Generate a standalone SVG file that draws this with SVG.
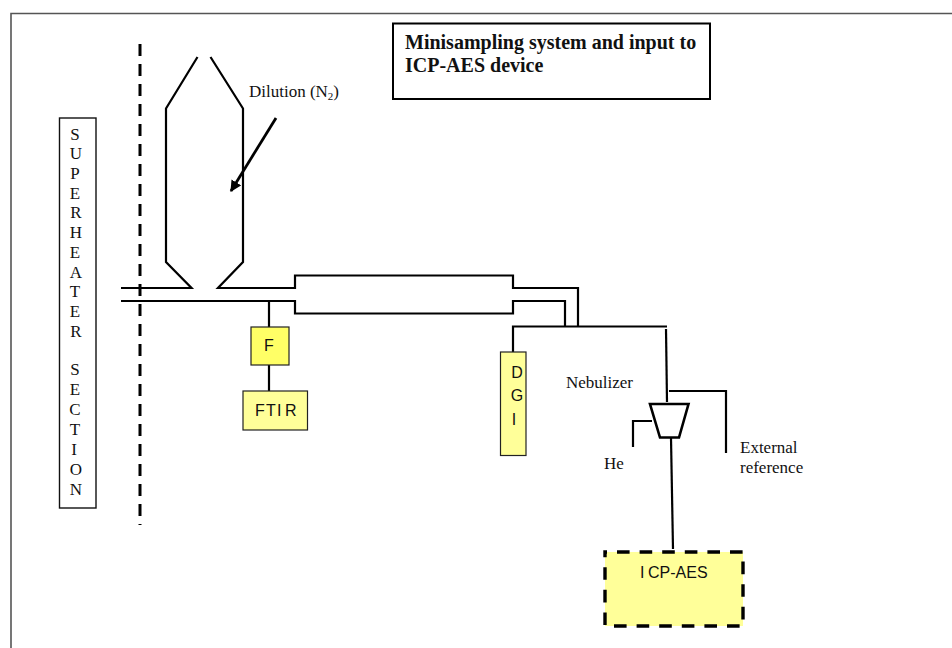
<svg xmlns="http://www.w3.org/2000/svg" width="952" height="648" viewBox="0 0 952 648">
<style>
.pipe{fill:none;stroke:#000;stroke-width:2.2}
.thick{fill:none;stroke:#000;stroke-width:2.6}
.box{stroke:#222;stroke-width:1.2}
.serif{font-family:"Liberation Serif","Times New Roman",serif;font-size:17px;fill:#111}
.sans{font-family:"Liberation Sans",Arial,sans-serif;font-size:16px;fill:#111}
.mid{text-anchor:middle}
.head{font-family:"Liberation Serif","Times New Roman",serif;font-size:20px;font-weight:bold;fill:#111}
</style>
<defs>
<marker id="head" viewBox="0 0 10 10" refX="9" refY="5" markerWidth="4" markerHeight="4" orient="auto"><path d="M0 0L10 5L0 10Z" fill="#000"/></marker>
</defs>
<rect width="952" height="648" fill="#fff"/>
<path id="frame" d="M11 648V13.500H952" fill="none" stroke="#555" stroke-width="1.6"/>
<g id="title">
<rect x="393" y="23.500" width="317" height="75.500" fill="#fff" stroke="#000" stroke-width="2"/>
<text class="head" x="405" y="49">Minisampling system and input to</text>
<text class="head" x="405" y="72">ICP-AES device</text>
</g>
<g id="superheater">
<rect x="59.500" y="118" width="36.500" height="390" fill="#fff" stroke="#111" stroke-width="1.4"/>
<g class="serif mid">
<text x="75" y="140">S</text><text x="76" y="159">U</text><text x="75" y="179">P</text><text x="75" y="199">E</text><text x="76" y="218">R</text><text x="76" y="238">H</text><text x="75" y="258">E</text><text x="76" y="278">A</text><text x="75" y="297">T</text><text x="75" y="317">E</text><text x="76" y="337">R</text><text x="75" y="375">S</text><text x="75" y="395">E</text><text x="75" y="415">C</text><text x="75" y="435">T</text><text x="74" y="455">I</text><text x="76" y="475">O</text><text x="76" y="495">N</text>
</g>
</g>
<g id="connectors">
<path d="M140 44V525" fill="none" stroke="#000" stroke-width="3" stroke-dasharray="12 8"/>
<path class="pipe" d="M197.500 57L166 108.500V262L191.500 288H121"/>
<path class="pipe" d="M210.500 57L243 108.500V262L218 288H295V275.500H513V288H578V326"/>
<path class="pipe" d="M121 301H295V313.500H513V301H565V326"/>
<path class="pipe" d="M513 353V326.500H667"/>
<path class="pipe" d="M666 329L667 402"/>
<path class="pipe" d="M669 391H726V453"/>
<path class="pipe" d="M633 447V421H652"/>
<path class="pipe" d="M671 438L673 549"/>
<path class="pipe" d="M269 301V327M269 365V391"/>
<path d="M276 118L231 191" fill="none" stroke="#000" stroke-width="2.800" marker-end="url(#head)"/>
</g>
<g id="nebulizer"><path class="thick" d="M650 404H688.500L679 437.500H660Z"/></g>
<g id="f"><rect class="box" x="251" y="327" width="38" height="38" fill="#ffff66"/><text class="sans mid" x="269" y="351">F</text></g>
<g id="ftir"><rect class="box" x="243" y="391" width="64.500" height="39" fill="#ffff99"/><text class="sans" x="255 266 277 285" y="416">FTIR</text></g>
<g id="dgi"><rect class="box" x="500.500" y="352" width="25.500" height="103.500" fill="#ffff99"/><g class="sans mid"><text x="517" y="378">D</text><text x="517" y="401">G</text><text x="514" y="425">I</text></g></g>
<g id="icp"><rect x="605" y="552" width="138" height="74" fill="#ffff99" stroke="#000" stroke-width="3.400" stroke-dasharray="12.600 10" stroke-dashoffset="10.600"/><text class="sans" x="640 648" y="578">ICP-AES</text></g>
<g id="labels" class="serif">
<text x="249" y="97">Dilution (N<tspan font-size="11" dy="3">2</tspan><tspan dy="-3">)</tspan></text>
<text x="566" y="388">Nebulizer</text>
<text x="604" y="469">He</text>
<text x="740" y="453">External</text>
<text x="740" y="473">reference</text>
</g>
</svg>
